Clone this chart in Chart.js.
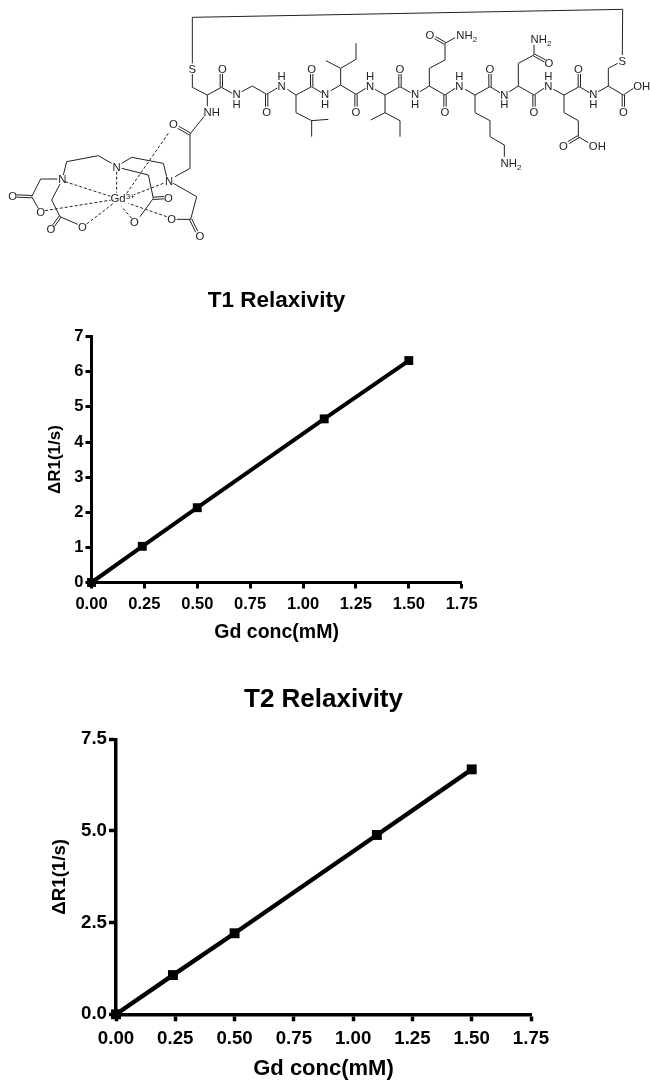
<!DOCTYPE html>
<html><head><meta charset="utf-8">
<style>
html,body{margin:0;padding:0;background:#fff;width:650px;height:1080px;overflow:hidden}
#wrap{position:relative;width:650px;height:1080px}
canvas{position:absolute;left:0;filter:blur(0.35px)}
svg{position:absolute;left:0;top:0;filter:blur(0.3px)}
</style>
<script src="https://cdn.jsdelivr.net/npm/chart.js@4"></script>
</head><body><div id="wrap">
<svg id="mol" width="650" height="280" viewBox="0 0 1950 840"></svg>
<div style="position:absolute;left:0;top:280px;width:650px;height:370px"><canvas id="t1" style="top:0"></canvas></div>
<div style="position:absolute;left:0;top:680px;width:650px;height:420px"><canvas id="t2" style="top:0"></canvas></div>
</div>
<script>
const concentrations = [0, 0.24, 0.5, 1.1, 1.5];
const t1Values = [0, 1.03, 2.13, 4.66, 6.32];
const t2Values = [0, 1.07, 2.21, 4.89, 6.68];
const t1Title = "T1 Relaxivity";
const t2Title = "T2 Relaxivity";
const xAxisTitle = "Gd conc(mM)";
const yAxisTitle = "ΔR1(1/s)";

function makeChart(id, title, values, o){
  const cv = document.getElementById(id);
  cv.width = 650; cv.height = o.h;
  cv.style.width = '650px'; cv.style.height = o.h + 'px';
  return new Chart(cv, {
    type: 'scatter',
    data: { datasets: [{
      data: concentrations.map((x, i) => ({x, y: values[i]})),
      showLine: true, clip: false,
      borderColor: '#000', backgroundColor: '#000',
      borderWidth: o.line, pointStyle: 'rect', pointRadius: o.pt, pointHoverRadius: o.pt,
      pointBorderWidth: 0
    }]},
    options: {
      responsive: false, animation: false, events: [],
      layout: { padding: { left: 0, right: 650 - o.right, top: 0, bottom: 0 } },
      plugins: {
        legend: { display: false }, tooltip: { enabled: false },
        title: { display: true, text: title, color: '#000', fullSize: false,
          font: { family: 'Liberation Sans', weight: 'bold', size: o.titleSize, lineHeight: 1.2 },
          padding: { top: o.titlePadTop, bottom: o.titlePadBottom } }
      },
      scales: {
        x: { type: 'linear', min: 0, max: 1.75,
          afterFit: s => { s.height = o.xH; },
          border: { color: '#000', width: o.axis },
          grid: { drawOnChartArea: false, drawTicks: true, tickLength: o.tick, tickWidth: o.axis, tickColor: '#000', color: '#000' },
          ticks: { stepSize: 0.25, color: '#000', padding: o.xPad, maxRotation: 0, autoSkip: false,
            font: { family: 'Liberation Sans', weight: 'bold', size: o.tickSize },
            callback: v => v.toFixed(2) },
          title: { display: true, text: xAxisTitle, color: '#000',
            font: { family: 'Liberation Sans', weight: 'bold', size: o.xTitleSize, lineHeight: 1.2 },
            padding: { top: 0, bottom: o.xTitleBottom } } },
        y: { type: 'linear', min: 0, max: o.yMax,
          afterFit: s => { s.width = o.left; },
          border: { color: '#000', width: o.axis },
          grid: { drawOnChartArea: false, drawTicks: true, tickLength: o.tick, tickWidth: o.axis, tickColor: '#000', color: '#000' },
          ticks: { stepSize: o.yStep, color: '#000', padding: 2, autoSkip: false,
            font: { family: 'Liberation Sans', weight: 'bold', size: o.tickSize },
            callback: v => v.toFixed(o.yDigits) },
          title: { display: true, text: yAxisTitle, color: '#000',
            font: { family: 'Liberation Sans', weight: 'bold', size: o.yTitleSize, lineHeight: 1.2 },
            padding: { top: o.yTitleTop, bottom: 0 } } }
      }
    }
  });
}

makeChart('t1', t1Title, t1Values, { h: 370, left: 91.5, right: 461.7, xH: 67.5, line: 4, pt: 6.3, axis: 3, tick: 6,
  titleSize: 22.5, titlePadTop: 7.5, titlePadBottom: 22.2, tickSize: 16.5, xPad: 6, xTitleSize: 19.5, xTitleBottom: 5.5,
  yMax: 7, yStep: 1, yDigits: 0, yTitleSize: 17, yTitleTop: 45 });
makeChart('t2', t2Title, t2Values, { h: 420, left: 116, right: 531, xH: 85.7, line: 4.4, pt: 7, axis: 3.5, tick: 7,
  titleSize: 26, titlePadTop: 4.7, titlePadBottom: 23.4, tickSize: 18.7, xPad: 6, xTitleSize: 22, xTitleBottom: 17.8,
  yMax: 7.5, yStep: 2.5, yDigits: 1, yTitleSize: 18.7, yTitleTop: 49 });

/* ---- chemical structure drawing (units: 1/3 px). Peptide right part shifted by 960 ---- */
const R = 960;
const bondsLeft = [
 [577,52,577,190],[577,222,577,262,622,285,664,262],[622,285,622,318],[664,262,697,280],
 [725,275,757,258,800,283],[800,283,832,264],[862,268,888,285,935,260],[935,260,965,278],
 [888,285,888,338,935,362,985,358],[935,362,935,410],
 [612,350,570,402,570,505,525,530],
 [365,490,395,472,490,490,500,530],[335,490,295,467,200,485,190,525],
 [365,505,445,525,460,595],[460,595,420,650],
 [172,537,122,537,95,590,115,625],[180,552,155,600,180,650,233,673],
 [520,550,590,590,572,658,530,658]
];
const doublesLeft = [
 [664,262,664,222],[800,283,800,320],[935,260,935,222],[570,402,535,382],
 [460,595,492,593],[95,590,50,588],[180,650,160,678],[572,658,590,695]
];
const dashesLeft = [
 [350,515,350,578],[505,400,380,580],[195,545,335,590],[135,632,335,600],
 [260,672,340,610],[395,655,365,620],[500,650,385,610],[490,550,400,585]
];
const bondsRight = [
 [18,182,62,205,108,178,108,130],[62,205,62,255,108,283],[62,255,32,272],[108,283,137,265],
 [165,268,195,285,240,260],[195,285,195,338,152,360],[195,338,240,362,240,410],[240,260,272,278],
 [300,275,328,258,375,285],[328,258,328,205,375,180,375,130],[375,130,405,113],[375,285,405,265],
 [435,268,465,285,510,260],[465,285,465,338,510,362,510,410,553,435,553,470],[510,260,540,278],
 [568,275,595,258,642,285],[595,258,595,190,642,165,642,135],[642,285,672,265],
 [700,268,732,285,778,260],[732,285,732,338,775,362,775,410,805,428],[778,260,808,278],
 [835,275,865,258,910,285],[865,258,865,205,893,190],[907,165,908,28],[910,285,940,265]
];
const doublesRight = [
 [108,283,108,320],[240,260,240,222],[375,130,345,113],[375,285,375,320],[510,260,510,222],
 [642,165,675,183],[642,285,642,320],[778,260,778,222],[775,410,745,428],[910,285,910,320]
];
const labelsLeft = [
 ['S',577,207],['O',667,207],['N',710,283],['H',710,313],['O',800,335],['N',845,258],['H',845,228],
 ['O',935,207],['NH',635,337],['O',520,373],['N',350,500],['N',507,542],['N',187,537],
 ['O',505,593],['O',403,667],['O',38,587],['O',122,635],['O',153,686],['O',247,680],['O',515,658],['O',600,708]
];
const labelsRight = [
 ['N',15,283],['H',15,313],['O',108,335],['N',150,258],['H',150,228],['O',240,207],['N',285,283],['H',285,313],
 ['O',330,105],['O',375,335],['N',418,258],['H',418,228],['O',510,207],['N',553,285],['H',553,313],
 ['O',687,190],['O',642,335],['N',685,258],['H',685,228],['O',775,207],['O',730,437],['OH',832,437],
 ['N',820,283],['H',820,313],['S',907,182],['O',910,335],['OH',965,258]
];
const amineLabels = [[440,105],[573,490],[663,118]];

const NS = 'http://www.w3.org/2000/svg';
const mol = document.getElementById('mol');
function el(n, a, t){ const e = document.createElementNS(NS, n); for (const k in a) e.setAttribute(k, a[k]); if (t) e.textContent = t; return e; }
function poly(pts, dx, dash){
  const p = []; for (let i = 0; i < pts.length; i += 2) p.push((pts[i] + dx) + ',' + pts[i + 1]);
  mol.appendChild(el('polyline', { points: p.join(' '), fill: 'none', stroke: '#222', 'stroke-width': 3, 'stroke-dasharray': dash || 'none' }));
}
function dbl(b, dx){
  const [a, c, d, f] = b, l = Math.hypot(d - a, f - c), nx = -(f - c) / l * 3.5, ny = (d - a) / l * 3.5;
  poly([a + nx, c + ny, d + nx, f + ny], dx); poly([a - nx, c - ny, d - nx, f - ny], dx);
}
function label(s, x, y, dx){
  mol.appendChild(el('text', { x: x + dx, y: y + 12, 'text-anchor': 'middle', 'font-family': 'Liberation Sans', 'font-size': 34, fill: '#222' }, s));
}
poly([577,52,1868,28], 0);
bondsLeft.forEach(b => poly(b, 0));
doublesLeft.forEach(b => dbl(b, 0));
dashesLeft.forEach(b => poly(b, 0, '9 6'));
bondsRight.forEach(b => poly(b, R));
doublesRight.forEach(b => dbl(b, R));
labelsLeft.forEach(l => label(l[0], l[1], l[2], 0));
labelsRight.forEach(l => label(l[0], l[1], l[2], R));
amineLabels.forEach(a => {
  const t = el('text', { x: a[0] + R, y: a[1] + 12, 'text-anchor': 'middle', 'font-family': 'Liberation Sans', 'font-size': 34, fill: '#222' });
  t.appendChild(el('tspan', {}, 'NH'));
  t.appendChild(el('tspan', { dy: 8, 'font-size': 24 }, '2'));
  mol.appendChild(t);
});
const gd = el('text', { x: 368, y: 607, 'text-anchor': 'middle', 'font-family': 'Liberation Sans', 'font-size': 34, fill: '#222', stroke: '#fff', 'stroke-width': 5, 'paint-order': 'stroke' });
gd.appendChild(el('tspan', {}, 'Gd'));
gd.appendChild(el('tspan', { dy: -10, 'font-size': 24 }, '3+'));
mol.appendChild(gd);
</script>
</body></html>
